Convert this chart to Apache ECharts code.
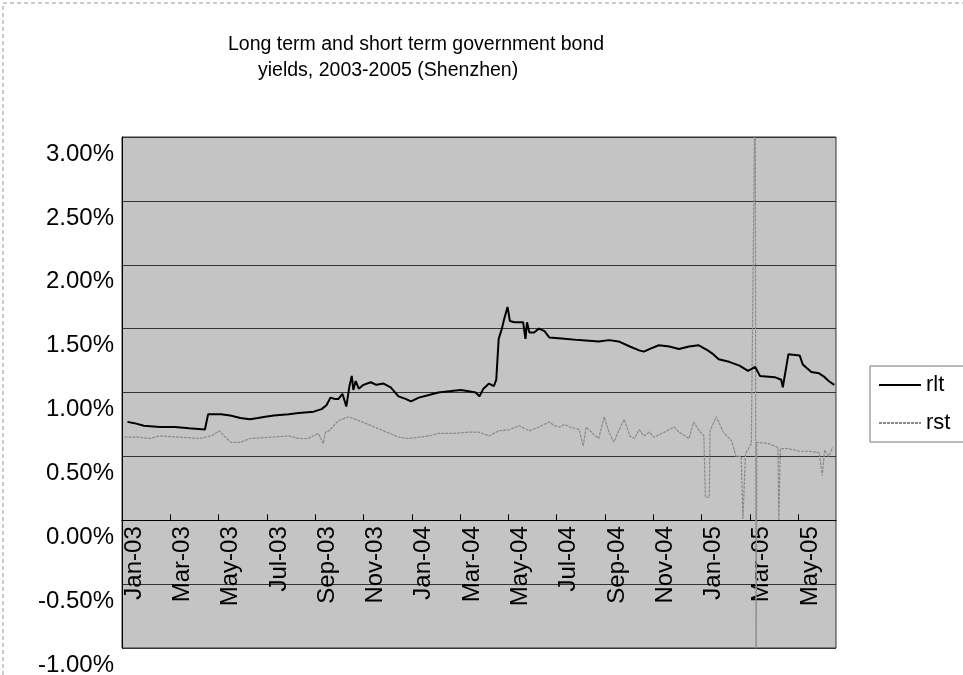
<!DOCTYPE html>
<html>
<head>
<meta charset="utf-8">
<script src="https://cdn.jsdelivr.net/npm/echarts@6/dist/echarts.min.js"></script>
<style>
    html, body { margin: 0; padding: 0; background: #fff; }
    #chart { width: 963px; height: 675px; }
</style>
</head>
<body>
<div id="chart"></div>
<script>
'use strict';

// tick labels, one every two months starting Jan-03
var monthLabels = ['Jan-03', 'Mar-03', 'May-03', 'Jul-03', 'Sep-03', 'Nov-03', 'Jan-04', 'Mar-04',
    'May-04', 'Jul-04', 'Sep-04', 'Nov-04', 'Jan-05', 'Mar-05', 'May-05'];

// long term yield (%)
var rltDates = ['2003-01-08', '2003-01-17', '2003-01-29', '2003-02-17', '2003-03-07', '2003-03-25', '2003-04-14',
    '2003-04-16', '2003-04-18', '2003-05-04', '2003-05-16', '2003-05-29', '2003-06-10', '2003-06-20', '2003-06-29',
    '2003-07-10', '2003-07-29', '2003-08-11', '2003-08-30', '2003-09-09', '2003-09-15', '2003-09-20', '2003-09-25',
    '2003-09-30', '2003-10-05', '2003-10-10', '2003-10-14', '2003-10-17', '2003-10-19', '2003-10-22', '2003-10-26',
    '2003-11-01', '2003-11-10', '2003-11-17', '2003-11-26', '2003-12-05', '2003-12-15', '2003-12-24', '2003-12-31',
    '2004-01-10', '2004-01-23', '2004-02-04', '2004-02-17', '2004-03-02', '2004-03-12', '2004-03-21', '2004-03-26',
    '2004-03-31', '2004-04-07', '2004-04-13', '2004-04-16', '2004-04-19', '2004-04-23', '2004-04-26', '2004-04-30',
    '2004-05-03', '2004-05-09', '2004-05-20', '2004-05-23', '2004-05-25', '2004-05-28', '2004-06-03', '2004-06-09',
    '2004-06-16', '2004-06-22', '2004-07-11', '2004-07-30', '2004-08-24', '2004-09-06', '2004-09-18', '2004-10-02',
    '2004-10-14', '2004-10-20', '2004-10-27', '2004-11-08', '2004-11-21', '2004-12-03', '2004-12-16', '2004-12-28',
    '2005-01-09', '2005-01-16', '2005-01-23', '2005-02-05', '2005-02-17', '2005-02-27', '2005-03-08', '2005-03-14',
    '2005-04-02', '2005-04-10', '2005-04-12', '2005-04-19', '2005-05-03', '2005-05-07', '2005-05-18', '2005-05-28',
    '2005-06-04', '2005-06-09', '2005-06-16'];
var rltValues = [0.77, 0.76, 0.74, 0.73, 0.73, 0.72, 0.71,
    0.71, 0.83, 0.83, 0.82, 0.80, 0.79, 0.80, 0.81,
    0.82, 0.83, 0.84, 0.85, 0.87, 0.90, 0.96, 0.95,
    0.95, 0.99, 0.89, 1.05, 1.13, 1.02, 1.09, 1.03,
    1.06, 1.08, 1.06, 1.07, 1.04, 0.97, 0.95, 0.93,
    0.96, 0.98, 1.00, 1.01, 1.02, 1.01, 1.00, 0.97,
    1.03, 1.07, 1.05, 1.10, 1.42, 1.50, 1.58, 1.67,
    1.56, 1.55, 1.55, 1.42, 1.55, 1.47, 1.47, 1.50,
    1.48, 1.43, 1.42, 1.41, 1.40, 1.41, 1.40, 1.36,
    1.33, 1.32, 1.34, 1.37, 1.36, 1.34, 1.36, 1.37,
    1.33, 1.30, 1.26, 1.24, 1.21, 1.17, 1.20, 1.13,
    1.12, 1.10, 1.04, 1.30, 1.29, 1.22, 1.16, 1.15,
    1.12, 1.09, 1.06];

// short term yield (%)
var rstDates = ['2003-01-04', '2003-01-23', '2003-02-05', '2003-02-17', '2003-03-14', '2003-04-07', '2003-04-22',
    '2003-05-02', '2003-05-08', '2003-05-17', '2003-05-29', '2003-06-10', '2003-07-05', '2003-07-29', '2003-08-11',
    '2003-08-23', '2003-09-05', '2003-09-11', '2003-09-14', '2003-09-18', '2003-09-30', '2003-10-13', '2003-10-26',
    '2003-11-07', '2003-11-26', '2003-12-15', '2003-12-28', '2004-01-10', '2004-01-23', '2004-02-04', '2004-02-24',
    '2004-03-12', '2004-03-25', '2004-04-07', '2004-04-19', '2004-05-03', '2004-05-15', '2004-05-28', '2004-06-09',
    '2004-06-22', '2004-06-28', '2004-07-05', '2004-07-11', '2004-07-18', '2004-07-30', '2004-08-04', '2004-08-08',
    '2004-08-18', '2004-08-24', '2004-08-31', '2004-09-06', '2004-09-12', '2004-09-18', '2004-09-25', '2004-10-02',
    '2004-10-08', '2004-10-14', '2004-10-20', '2004-10-27', '2004-11-02', '2004-11-15', '2004-11-21', '2004-11-27',
    '2004-12-03', '2004-12-16', '2004-12-22', '2004-12-28', '2005-01-04', '2005-01-06', '2005-01-11', '2005-01-12',
    '2005-01-20', '2005-01-29', '2005-02-08', '2005-02-13', '2005-02-19', '2005-02-21', '2005-02-24', '2005-03-03',
    '2005-03-08', '2005-03-09', '2005-03-10', '2005-03-25', '2005-04-06', '2005-04-07', '2005-04-09', '2005-04-19',
    '2005-05-03', '2005-05-15', '2005-05-28', '2005-06-01', '2005-06-04', '2005-06-09', '2005-06-14'];
var rstValues = [0.65, 0.65, 0.64, 0.66, 0.65, 0.64, 0.66,
    0.70, 0.66, 0.61, 0.61, 0.64, 0.65, 0.66, 0.64,
    0.64, 0.68, 0.60, 0.69, 0.70, 0.78, 0.81, 0.78,
    0.75, 0.70, 0.65, 0.64, 0.65, 0.66, 0.68, 0.68,
    0.69, 0.69, 0.66, 0.70, 0.71, 0.74, 0.70, 0.73,
    0.77, 0.74, 0.73, 0.75, 0.73, 0.71, 0.58, 0.73,
    0.67, 0.64, 0.81, 0.69, 0.61, 0.70, 0.79, 0.66,
    0.64, 0.71, 0.66, 0.69, 0.65, 0.69, 0.71, 0.73,
    0.69, 0.64, 0.77, 0.71, 0.66, 0.18, 0.18, 0.70,
    0.81, 0.69, 0.62, 0.50, 0.50, 0.01, 0.52, 0.60,
    3.60, -1.60, 0.61, 0.60, 0.57, 0.00, 0.56, 0.56,
    0.54, 0.54, 0.53, 0.35, 0.55, 0.50, 0.57];

function monthIndex(s) {
    var p = s.split('-').map(Number);
    var days = new Date(p[0], p[1], 0).getDate();
    return (p[0] - 2003) * 12 + (p[1] - 1) + (p[2] - 1) / days;
}

function toPoints(dates, values) {
    var pts = [];
    for (var i = 0; i < dates.length; i++) {
        pts.push([monthIndex(dates[i]), values[i]]);
    }
    return pts;
}

var chart = echarts.init(document.getElementById('chart'));
var fontFamily = '"Liberation Sans", Arial, sans-serif';

var gridTop = 137;
var gridBottom = 27;
var yMin = -1;
var yMax = 3;
// lift the x axis up to the 0% line
var plotHeight = 675 - gridTop - gridBottom;
var zeroOffset = -plotHeight * (0 - yMin) / (yMax - yMin);

var option = {
    animation: false,
    textStyle: {fontFamily: fontFamily},
    title: [
        {
            text: 'Long term and short term government bond',
            left: 228,
            top: 35,
            padding: 0,
            textStyle: {fontSize: 19.5, fontWeight: 'normal', color: '#000', fontFamily: fontFamily}
        },
        {
            text: 'yields, 2003-2005 (Shenzhen)',
            left: 258,
            top: 61,
            padding: 0,
            textStyle: {fontSize: 19.5, fontWeight: 'normal', color: '#000', fontFamily: fontFamily}
        }
    ],
    legend: {
        data: ['rlt', 'rst'],
        orient: 'vertical',
        left: 870,
        top: 366,
        padding: [8, 40, 8, 8],
        itemWidth: 42,
        itemHeight: 14,
        itemGap: 16,
        borderColor: '#777',
        borderWidth: 1,
        itemStyle: {opacity: 0},
        textStyle: {fontSize: 22, color: '#000', fontFamily: fontFamily}
    },
    graphic: [
        {
            type: 'rect',
            shape: {x: 3, y: 3, width: 980, height: 700},
            style: {fill: null, stroke: '#999', lineWidth: 1, lineDash: [4, 3]},
            silent: true,
            z: -10
        }
    ],
    grid: {
        left: 122,
        right: 127,
        top: gridTop,
        bottom: gridBottom,
        outerBoundsMode: 'none',
        show: true,
        backgroundColor: '#c4c4c4',
        borderColor: '#333',
        borderWidth: 1
    },
    xAxis: {
        type: 'value',
        min: 0,
        max: 29.57,
        interval: 2,
        offset: zeroOffset,
        axisLine: {onZero: false, lineStyle: {color: '#000', width: 1}},
        axisTick: {inside: true, length: 6, lineStyle: {color: '#000'}},
        splitLine: {show: false},
        axisLabel: {
            rotate: 90,
            margin: 6,
            fontSize: 24,
            lineHeight: 24,
            verticalAlign: 'top',
            color: '#000',
            showMaxLabel: false,
            formatter: function (v) {
                var i = Math.round(v / 2);
                return (Math.abs(v - i * 2) < 1e-6 && monthLabels[i]) ? monthLabels[i] : '';
            }
        }
    },
    yAxis: {
        type: 'value',
        min: yMin,
        max: yMax,
        interval: 0.5,
        axisLine: {show: true, lineStyle: {color: '#000'}},
        axisTick: {show: false},
        splitLine: {lineStyle: {color: '#333', width: 1}},
        axisLabel: {
            fontSize: 24,
            color: '#000',
            margin: 8,
            lineHeight: 34,
            verticalAlign: 'top',
            formatter: function (v) {
                return v.toFixed(2) + '%';
            }
        }
    },
    series: [
        {
            name: 'rlt',
            type: 'line',
            symbol: 'none',
            data: toPoints(rltDates, rltValues),
            lineStyle: {color: '#000', width: 2},
            itemStyle: {color: '#000'},
            z: 3
        },
        {
            name: 'rst',
            type: 'line',
            symbol: 'none',
            data: toPoints(rstDates, rstValues),
            lineStyle: {color: '#8a8a8a', width: 1.2, type: [3, 1]},
            itemStyle: {color: '#8a8a8a'},
            z: 2
        }
    ]
};

chart.setOption(option);
</script>
</body>
</html>
